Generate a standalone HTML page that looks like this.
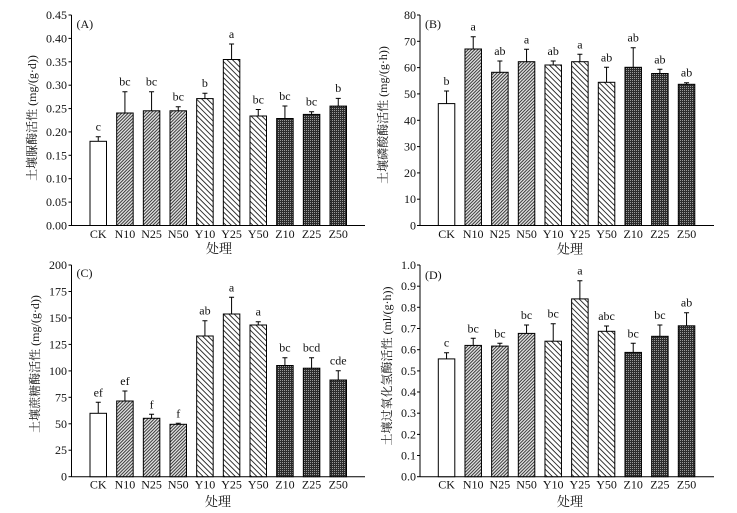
<!DOCTYPE html>
<html><head><meta charset="utf-8"><style>
html,body{margin:0;padding:0;background:#fff;}
svg{display:block;}
text{font-family:"Liberation Serif","Noto Serif CJK SC",serif;fill:#111;}
.t{font-size:12px;}
.cj{font-family:"Liberation Serif","Noto Serif CJK SC","Noto Sans CJK SC",serif;}
</style></head><body>
<svg width="737" height="513" viewBox="0 0 737 513" xmlns="http://www.w3.org/2000/svg">
<defs>
<pattern id="pn" patternUnits="userSpaceOnUse" width="2.3" height="2.3" patternTransform="rotate(45)">
<rect width="2.3" height="2.3" fill="#e4e4e4"/><line x1="0.5" y1="0" x2="0.5" y2="2.3" stroke="#333" stroke-width="0.95"/>
</pattern>
<pattern id="py" patternUnits="userSpaceOnUse" width="3.8" height="3.8" patternTransform="rotate(-45)">
<rect width="3.8" height="3.8" fill="#fff"/><line x1="0.5" y1="0" x2="0.5" y2="3.8" stroke="#222" stroke-width="0.9"/>
</pattern>
<pattern id="pz" patternUnits="userSpaceOnUse" width="2" height="2">
<rect width="2" height="2" fill="#2c2c2c"/><rect x="0" y="0" width="1" height="1" fill="#9a9a9a"/>
</pattern>
</defs>
<rect width="737" height="513" fill="#fff"/>

<!-- ================= Panel A ================= -->
<g stroke="#000" stroke-width="1" fill="none">
<line x1="71.5" y1="15" x2="71.5" y2="225.5"/>
<line x1="71.5" y1="225.5" x2="365" y2="225.5"/>
<line x1="68.5" y1="225.5" x2="71.5" y2="225.5"/><line x1="68.5" y1="202.1" x2="71.5" y2="202.1"/><line x1="68.5" y1="178.7" x2="71.5" y2="178.7"/><line x1="68.5" y1="155.3" x2="71.5" y2="155.3"/><line x1="68.5" y1="131.9" x2="71.5" y2="131.9"/><line x1="68.5" y1="108.6" x2="71.5" y2="108.6"/><line x1="68.5" y1="85.2" x2="71.5" y2="85.2"/><line x1="68.5" y1="61.8" x2="71.5" y2="61.8"/><line x1="68.5" y1="38.4" x2="71.5" y2="38.4"/><line x1="68.5" y1="15" x2="71.5" y2="15"/>
</g>
<g class="t" text-anchor="end">
<text x="67" y="229.5">0.00</text><text x="67" y="206.1">0.05</text><text x="67" y="182.7">0.10</text><text x="67" y="159.3">0.15</text><text x="67" y="135.9">0.20</text><text x="67" y="112.6">0.25</text><text x="67" y="89.2">0.30</text><text x="67" y="65.8">0.35</text><text x="67" y="42.4">0.40</text><text x="67" y="19">0.45</text>
</g>
<g stroke="#000" stroke-width="1">
<rect x="90" y="141.3" width="16.5" height="84.2" fill="#fff"/>
<rect x="116.67" y="113" width="16.5" height="112.5" fill="url(#pn)"/>
<rect x="143.33" y="110.8" width="16.5" height="114.7" fill="url(#pn)"/>
<rect x="170" y="110.8" width="16.5" height="114.7" fill="url(#pn)"/>
<rect x="196.67" y="98.6" width="16.5" height="126.9" fill="url(#py)"/>
<rect x="223.33" y="59.5" width="16.5" height="166" fill="url(#py)"/>
<rect x="250" y="116" width="16.5" height="109.5" fill="url(#py)"/>
<rect x="276.67" y="118.5" width="16.5" height="107" fill="url(#pz)"/>
<rect x="303.33" y="114.4" width="16.5" height="111.1" fill="url(#pz)"/>
<rect x="330" y="106.1" width="16.5" height="119.4" fill="url(#pz)"/>
</g>
<g stroke="#000" stroke-width="1" fill="none">
<path d="M98.25 141.3V136.7M95.75 136.7H100.75"/>
<path d="M124.92 113V91.8M122.42 91.8H127.42"/>
<path d="M151.58 110.8V91.8M149.08 91.8H154.08"/>
<path d="M178.25 110.8V106.7M175.75 106.7H180.75"/>
<path d="M204.92 98.6V93.3M202.42 93.3H207.42"/>
<path d="M231.58 59.5V44M229.08 44H234.08"/>
<path d="M258.25 116V109.5M255.75 109.5H260.75"/>
<path d="M284.92 118.5V106M282.42 106H287.42"/>
<path d="M311.58 114.4V111.8M309.08 111.8H314.08"/>
<path d="M338.25 106.1V98.4M335.75 98.4H340.75"/>
</g>
<g class="t" text-anchor="middle">
<text x="98.25" y="130.5">c</text><text x="124.92" y="85.6">bc</text><text x="151.58" y="85.6">bc</text><text x="178.25" y="100.5">bc</text><text x="204.92" y="87.2">b</text><text x="231.58" y="37.8">a</text><text x="258.25" y="103.3">bc</text><text x="284.92" y="99.8">bc</text><text x="311.58" y="105.6">bc</text><text x="338.25" y="92.2">b</text>
</g>
<g class="t" text-anchor="middle">
<text x="98.25" y="237.8">CK</text><text x="124.92" y="237.8">N10</text><text x="151.58" y="237.8">N25</text><text x="178.25" y="237.8">N50</text><text x="204.92" y="237.8">Y10</text><text x="231.58" y="237.8">Y25</text><text x="258.25" y="237.8">Y50</text><text x="284.92" y="237.8">Z10</text><text x="311.58" y="237.8">Z25</text><text x="338.25" y="237.8">Z50</text>
</g>
<text class="cj" x="219" y="253" font-size="13" text-anchor="middle">处理</text>
<text class="t" x="76.5" y="28">(A)</text>
<text class="cj" x="32" y="118" font-size="12" text-anchor="middle" dy="0.35em" transform="rotate(-90 32 118)">土壤脲酶活性 (mg/(g·d))</text>

<!-- ================= Panel B ================= -->
<g stroke="#000" stroke-width="1" fill="none">
<line x1="420" y1="15" x2="420" y2="225.5"/>
<line x1="420" y1="225.5" x2="714" y2="225.5"/>
<line x1="417" y1="225.5" x2="420" y2="225.5"/><line x1="417" y1="199.2" x2="420" y2="199.2"/><line x1="417" y1="172.9" x2="420" y2="172.9"/><line x1="417" y1="146.6" x2="420" y2="146.6"/><line x1="417" y1="120.3" x2="420" y2="120.3"/><line x1="417" y1="93.9" x2="420" y2="93.9"/><line x1="417" y1="67.6" x2="420" y2="67.6"/><line x1="417" y1="41.3" x2="420" y2="41.3"/><line x1="417" y1="15" x2="420" y2="15"/>
</g>
<g class="t" text-anchor="end">
<text x="416" y="229.5">0</text><text x="416" y="203.2">10</text><text x="416" y="176.9">20</text><text x="416" y="150.6">30</text><text x="416" y="124.3">40</text><text x="416" y="97.9">50</text><text x="416" y="71.6">60</text><text x="416" y="45.3">70</text><text x="416" y="19">80</text>
</g>
<g stroke="#000" stroke-width="1">
<rect x="438.3" y="103.6" width="16.5" height="121.9" fill="#fff"/>
<rect x="464.97" y="49" width="16.5" height="176.5" fill="url(#pn)"/>
<rect x="491.63" y="72.3" width="16.5" height="153.2" fill="url(#pn)"/>
<rect x="518.3" y="61.7" width="16.5" height="163.8" fill="url(#pn)"/>
<rect x="544.97" y="65" width="16.5" height="160.5" fill="url(#py)"/>
<rect x="571.63" y="61.7" width="16.5" height="163.8" fill="url(#py)"/>
<rect x="598.3" y="82.3" width="16.5" height="143.2" fill="url(#py)"/>
<rect x="624.97" y="67.3" width="16.5" height="158.2" fill="url(#pz)"/>
<rect x="651.63" y="73.5" width="16.5" height="152" fill="url(#pz)"/>
<rect x="678.3" y="84.3" width="16.5" height="141.2" fill="url(#pz)"/>
</g>
<g stroke="#000" stroke-width="1" fill="none">
<path d="M446.55 103.6V91M444.05 91H449.05"/>
<path d="M473.22 49V36.7M470.72 36.7H475.72"/>
<path d="M499.88 72.3V61M497.38 61H502.38"/>
<path d="M526.55 61.7V49.3M524.05 49.3H529.05"/>
<path d="M553.22 65V61M550.72 61H555.72"/>
<path d="M579.88 61.7V54.3M577.38 54.3H582.38"/>
<path d="M606.55 82.3V67.3M604.05 67.3H609.05"/>
<path d="M633.22 67.3V47.7M630.72 47.7H635.72"/>
<path d="M659.88 73.5V69.3M657.38 69.3H662.38"/>
<path d="M686.55 84.3V82.7M684.05 82.7H689.05"/>
</g>
<g class="t" text-anchor="middle">
<text x="446.55" y="85">b</text><text x="473.22" y="30.7">a</text><text x="499.88" y="55">ab</text><text x="526.55" y="43.3">a</text><text x="553.22" y="55">ab</text><text x="579.88" y="48.3">a</text><text x="606.55" y="61.3">ab</text><text x="633.22" y="41.7">ab</text><text x="659.88" y="63.3">ab</text><text x="686.55" y="76.7">ab</text>
</g>
<g class="t" text-anchor="middle">
<text x="446.55" y="237.8">CK</text><text x="473.22" y="237.8">N10</text><text x="499.88" y="237.8">N25</text><text x="526.55" y="237.8">N50</text><text x="553.22" y="237.8">Y10</text><text x="579.88" y="237.8">Y25</text><text x="606.55" y="237.8">Y50</text><text x="633.22" y="237.8">Z10</text><text x="659.88" y="237.8">Z25</text><text x="686.55" y="237.8">Z50</text>
</g>
<text class="cj" x="570" y="253.5" font-size="13" text-anchor="middle">处理</text>
<text class="t" x="425" y="28">(B)</text>
<text class="cj" x="383" y="115" font-size="12" text-anchor="middle" dy="0.35em" transform="rotate(-90 383 115)">土壤磷酸酶活性 (mg/(g·h))</text>

<!-- ================= Panel C ================= -->
<g stroke="#000" stroke-width="1" fill="none">
<line x1="71.5" y1="265" x2="71.5" y2="476.7"/>
<line x1="71.5" y1="476.7" x2="365" y2="476.7"/>
<line x1="68.5" y1="476.7" x2="71.5" y2="476.7"/><line x1="68.5" y1="450.2" x2="71.5" y2="450.2"/><line x1="68.5" y1="423.8" x2="71.5" y2="423.8"/><line x1="68.5" y1="397.3" x2="71.5" y2="397.3"/><line x1="68.5" y1="370.9" x2="71.5" y2="370.9"/><line x1="68.5" y1="344.4" x2="71.5" y2="344.4"/><line x1="68.5" y1="317.9" x2="71.5" y2="317.9"/><line x1="68.5" y1="291.5" x2="71.5" y2="291.5"/><line x1="68.5" y1="265" x2="71.5" y2="265"/>
</g>
<g class="t" text-anchor="end">
<text x="67" y="480.7">0</text><text x="67" y="454.2">25</text><text x="67" y="427.8">50</text><text x="67" y="401.3">75</text><text x="67" y="374.9">100</text><text x="67" y="348.4">125</text><text x="67" y="321.9">150</text><text x="67" y="295.5">175</text><text x="67" y="269">200</text>
</g>
<g stroke="#000" stroke-width="1">
<rect x="90" y="413.3" width="16.5" height="63.4" fill="#fff"/>
<rect x="116.67" y="401" width="16.5" height="75.7" fill="url(#pn)"/>
<rect x="143.33" y="418.3" width="16.5" height="58.4" fill="url(#pn)"/>
<rect x="170" y="424.3" width="16.5" height="52.4" fill="url(#pn)"/>
<rect x="196.67" y="336" width="16.5" height="140.7" fill="url(#py)"/>
<rect x="223.33" y="314" width="16.5" height="162.7" fill="url(#py)"/>
<rect x="250" y="325" width="16.5" height="151.7" fill="url(#py)"/>
<rect x="276.67" y="365.5" width="16.5" height="111.2" fill="url(#pz)"/>
<rect x="303.33" y="368.2" width="16.5" height="108.5" fill="url(#pz)"/>
<rect x="330" y="380" width="16.5" height="96.7" fill="url(#pz)"/>
</g>
<g stroke="#000" stroke-width="1" fill="none">
<path d="M98.25 413.3V402.3M95.75 402.3H100.75"/>
<path d="M124.92 401V391M122.42 391H127.42"/>
<path d="M151.58 418.3V414.3M149.08 414.3H154.08"/>
<path d="M178.25 424.3V423.3M175.75 423.3H180.75"/>
<path d="M204.92 336V320.7M202.42 320.7H207.42"/>
<path d="M231.58 314V297.3M229.08 297.3H234.08"/>
<path d="M258.25 325V321.7M255.75 321.7H260.75"/>
<path d="M284.92 365.5V357.7M282.42 357.7H287.42"/>
<path d="M311.58 368.2V357.7M309.08 357.7H314.08"/>
<path d="M338.25 380V370.7M335.75 370.7H340.75"/>
</g>
<g class="t" text-anchor="middle">
<text x="98.25" y="396.3">ef</text><text x="124.92" y="385">ef</text><text x="151.58" y="408.3">f</text><text x="178.25" y="417.3">f</text><text x="204.92" y="314.7">ab</text><text x="231.58" y="291.3">a</text><text x="258.25" y="315.7">a</text><text x="284.92" y="351.7">bc</text><text x="311.58" y="351.7">bcd</text><text x="338.25" y="364.7">cde</text>
</g>
<g class="t" text-anchor="middle">
<text x="98.25" y="488.5">CK</text><text x="124.92" y="488.5">N10</text><text x="151.58" y="488.5">N25</text><text x="178.25" y="488.5">N50</text><text x="204.92" y="488.5">Y10</text><text x="231.58" y="488.5">Y25</text><text x="258.25" y="488.5">Y50</text><text x="284.92" y="488.5">Z10</text><text x="311.58" y="488.5">Z25</text><text x="338.25" y="488.5">Z50</text>
</g>
<text class="cj" x="218" y="506" font-size="13" text-anchor="middle">处理</text>
<text class="t" x="76.5" y="277">(C)</text>
<text class="cj" x="35" y="364" font-size="12" text-anchor="middle" dy="0.35em" transform="rotate(-90 35 364)">土壤蔗糖酶活性 (mg/(g·d))</text>

<!-- ================= Panel D ================= -->
<g stroke="#000" stroke-width="1" fill="none">
<line x1="420" y1="265" x2="420" y2="476.7"/>
<line x1="420" y1="476.7" x2="714" y2="476.7"/>
<line x1="417" y1="476.7" x2="420" y2="476.7"/><line x1="417" y1="455.5" x2="420" y2="455.5"/><line x1="417" y1="434.4" x2="420" y2="434.4"/><line x1="417" y1="413.2" x2="420" y2="413.2"/><line x1="417" y1="392" x2="420" y2="392"/><line x1="417" y1="370.9" x2="420" y2="370.9"/><line x1="417" y1="349.7" x2="420" y2="349.7"/><line x1="417" y1="328.5" x2="420" y2="328.5"/><line x1="417" y1="307.3" x2="420" y2="307.3"/><line x1="417" y1="286.2" x2="420" y2="286.2"/><line x1="417" y1="265" x2="420" y2="265"/>
</g>
<g class="t" text-anchor="end">
<text x="416" y="480.7">0.0</text><text x="416" y="459.5">0.1</text><text x="416" y="438.4">0.2</text><text x="416" y="417.2">0.3</text><text x="416" y="396">0.4</text><text x="416" y="374.9">0.5</text><text x="416" y="353.7">0.6</text><text x="416" y="332.5">0.7</text><text x="416" y="311.3">0.8</text><text x="416" y="290.2">0.9</text><text x="416" y="269">1.0</text>
</g>
<g stroke="#000" stroke-width="1">
<rect x="438.3" y="358.9" width="16.5" height="117.8" fill="#fff"/>
<rect x="464.97" y="345.4" width="16.5" height="131.3" fill="url(#pn)"/>
<rect x="491.63" y="346.1" width="16.5" height="130.6" fill="url(#pn)"/>
<rect x="518.3" y="333.4" width="16.5" height="143.3" fill="url(#pn)"/>
<rect x="544.97" y="341.2" width="16.5" height="135.5" fill="url(#py)"/>
<rect x="571.63" y="298.9" width="16.5" height="177.8" fill="url(#py)"/>
<rect x="598.3" y="331.3" width="16.5" height="145.4" fill="url(#py)"/>
<rect x="624.97" y="352.4" width="16.5" height="124.3" fill="url(#pz)"/>
<rect x="651.63" y="336.3" width="16.5" height="140.4" fill="url(#pz)"/>
<rect x="678.3" y="325.8" width="16.5" height="150.9" fill="url(#pz)"/>
</g>
<g stroke="#000" stroke-width="1" fill="none">
<path d="M446.55 358.9V352.7M444.05 352.7H449.05"/>
<path d="M473.22 345.4V338.3M470.72 338.3H475.72"/>
<path d="M499.88 346.1V343.3M497.38 343.3H502.38"/>
<path d="M526.55 333.4V325M524.05 325H529.05"/>
<path d="M553.22 341.2V323.7M550.72 323.7H555.72"/>
<path d="M579.88 298.9V280.7M577.38 280.7H582.38"/>
<path d="M606.55 331.3V326M604.05 326H609.05"/>
<path d="M633.22 352.4V343.3M630.72 343.3H635.72"/>
<path d="M659.88 336.3V325M657.38 325H662.38"/>
<path d="M686.55 325.8V312.7M684.05 312.7H689.05"/>
</g>
<g class="t" text-anchor="middle">
<text x="446.55" y="346.7">c</text><text x="473.22" y="332.3">bc</text><text x="499.88" y="337.3">bc</text><text x="526.55" y="319">bc</text><text x="553.22" y="317.7">bc</text><text x="579.88" y="274.7">a</text><text x="606.55" y="320">abc</text><text x="633.22" y="337.3">bc</text><text x="659.88" y="319">bc</text><text x="686.55" y="306.7">ab</text>
</g>
<g class="t" text-anchor="middle">
<text x="446.55" y="488.5">CK</text><text x="473.22" y="488.5">N10</text><text x="499.88" y="488.5">N25</text><text x="526.55" y="488.5">N50</text><text x="553.22" y="488.5">Y10</text><text x="579.88" y="488.5">Y25</text><text x="606.55" y="488.5">Y50</text><text x="633.22" y="488.5">Z10</text><text x="659.88" y="488.5">Z25</text><text x="686.55" y="488.5">Z50</text>
</g>
<text class="cj" x="570" y="506" font-size="13" text-anchor="middle">处理</text>
<text class="t" x="425" y="279">(D)</text>
<text class="cj" x="387" y="366" font-size="12" text-anchor="middle" dy="0.35em" transform="rotate(-90 387 366)">土壤过氧化氢酶活性 (ml/(g·h))</text>
</svg>
</body></html>
